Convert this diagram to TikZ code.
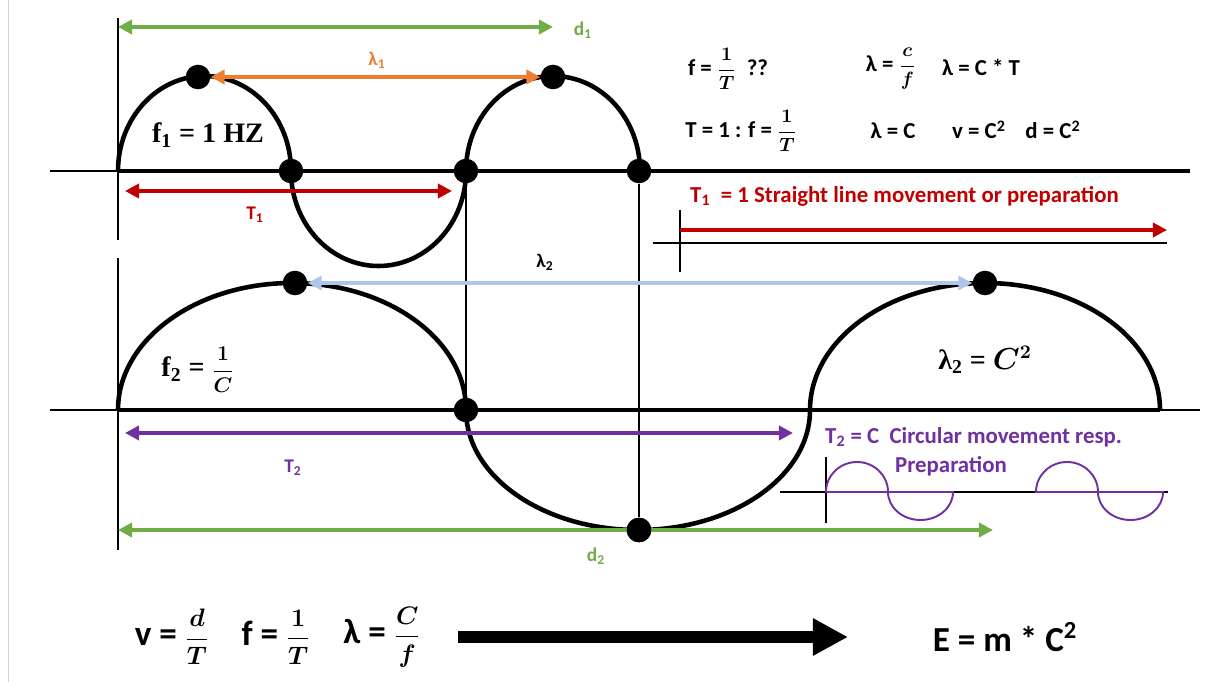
\documentclass[tikz,border=0pt]{standalone}
\usepackage{amsmath}
\usepackage{fontspec}
\setmainfont{Carlito}
\newfontfamily\serifbold{Liberation Serif}
\usetikzlibrary{arrows.meta}
\definecolor{dgreen}{HTML}{70AD47}
\definecolor{dorange}{HTML}{ED7D31}
\definecolor{dred}{HTML}{C00000}
\definecolor{dpurple}{HTML}{7030A0}
\definecolor{lblue}{HTML}{AFC6EA}
\newcommand{\smallfrac}[2]{{\fontsize{10.5}{12}\selectfont$\boldsymbol{\dfrac{#1}{#2}}$}}
\newcommand{\midfrac}[2]{{\fontsize{12}{14}\selectfont$\boldsymbol{\dfrac{#1}{#2}}$}}
\newcommand{\bigfrac}[2]{{\fontsize{15}{18}\selectfont$\boldsymbol{\dfrac{#1}{#2}}$}}
\tikzset{
  wave/.style={line width=2.6pt},
  thinaxis/.style={line width=1.6pt},
  thickaxis/.style={line width=2.8pt},
  guide/.style={line width=1.1pt},
  dot/.style={circle,fill=black,inner sep=0pt,minimum size=14pt},
  dimarrow/.style={line width=2.2pt,{Triangle[length=8pt,width=8pt]}-{Triangle[length=8pt,width=8pt]}},
  lbl/.style={font=\fontsize{11}{13}\selectfont\bfseries},
  formula/.style={font=\fontsize{13}{15}\selectfont\bfseries},
  bigformula/.style={font=\fontsize{20}{24}\selectfont\bfseries},
  serifformula/.style={font=\serifbold\bfseries\fontsize{16}{19}\selectfont},
}
\begin{document}
\begin{tikzpicture}[x=0.02cm,y=-0.02cm]
\useasboundingbox (0,0) rectangle (1214,682);
\draw[gray!35,line width=1pt] (8.5,0) -- (8.5,682);
% axes
\draw[thinaxis] (50,171) -- (1190,171);
\draw[thickaxis] (118,171) -- (1190,171);
\draw[thinaxis] (50,410) -- (1200,410);
\draw[thickaxis] (118,410) -- (1160,410);
\draw[thinaxis] (118,18) -- (118,240);
\draw[thinaxis] (118,258) -- (118,550);
% waves
\draw[wave] (118,171) arc[start angle=180,end angle=360,x radius=86.5,y radius=95]
  arc[start angle=180,end angle=0,x radius=87.5,y radius=95]
  arc[start angle=180,end angle=360,x radius=87,y radius=95];
\draw[wave] (118,410) arc[start angle=180,end angle=360,x radius=174,y radius=127]
  arc[start angle=180,end angle=0,x radius=172,y radius=120]
  arc[start angle=180,end angle=360,x radius=175,y radius=127];
% points
\node[dot] (a1) at (198,77) {};
\node[dot] (a2) at (291,171) {};
\node[dot] (a3) at (466,171) {};
\node[dot] (a4) at (553,77) {};
\node[dot] (a5) at (639,171) {};
\node[dot] (b1) at (295,283) {};
\node[dot] (b2) at (466,410) {};
\node[dot] (b3) at (639,530) {};
\node[dot] (b4) at (985,283) {};
\draw[guide] (a3) -- (b2);
\draw[guide] (a5) -- (b3);
% dimensions
\coordinate (d1l) at (118,27);
\coordinate (d1r) at (553,27);
\coordinate (t1l) at (125,191);
\coordinate (t1r) at (452,191);
\coordinate (t2l) at (125,433);
\coordinate (t2r) at (793,433);
\coordinate (d2l) at (118,530);
\coordinate (d2r) at (993,530);
\draw[dimarrow,dgreen] (d1l) -- (d1r);
\draw[dimarrow,dorange] (a1) -- (a4);
\draw[dimarrow,dred] (t1l) -- (t1r);
\draw[dimarrow,lblue] (b1) -- (b4);
\draw[dimarrow,dpurple] (t2l) -- (t2r);
\draw[dimarrow,dgreen] (d2l) -- (d2r);
\node[dot] at (b3) {};
\node[lbl,dgreen] (ld1) at (583,30) {d\textsubscript{1}};
\node[lbl,dorange] (llam1) at (377,60) {λ\textsubscript{1}};
\node[lbl,dred] (lt1) at (255,215) {T\textsubscript{1}};
\node[lbl] (llam2) at (545,262) {λ\textsubscript{2}};
\node[lbl,dpurple] (lt2) at (293,468) {T\textsubscript{2}};
\node[lbl,dgreen] (ld2) at (596,556) {d\textsubscript{2}};
\node[serifformula] (f1) at (208,135) {f\textsubscript{1} = 1 HZ};
\node[serifformula] (f2) at (198,370) {f\textsubscript{2} = \midfrac{1}{C}};
\node[serifformula] (lam2) at (985,360) {λ\textsubscript{2} = $\boldsymbol{C^2}$};
% straight line movement
\coordinate (sv1) at (680,210);
\coordinate (sv2) at (680,272);
\coordinate (sh1) at (653,243);
\coordinate (sh2) at (1167,243);
\coordinate (sa1) at (680,230);
\coordinate (sa2) at (1167,230);
\draw[thinaxis] (sv1) -- (sv2);
\draw[thinaxis] (sh1) -- (sh2);
\draw[line width=2.2pt,dred,-{Triangle[length=8pt,width=8pt]}] (sa1) -- (sa2);
\node[formula,dred,anchor=west] (straight) at (684,196) {T\textsubscript{1} \ = 1 Straight line movement or preparation};
% circular movement
\coordinate (cv1) at (826,457);
\coordinate (cv2) at (826,523);
\coordinate (ch1) at (780,492);
\coordinate (ch2) at (1168,492);
\draw[thinaxis] (cv1) -- (cv2);
\draw[thinaxis] (ch1) -- (ch2);
\foreach \s in {826,1036}
  \draw[dpurple,line width=1.1pt] (\s,492) arc[start angle=180,end angle=360,x radius=31,y radius=30]
    arc[start angle=180,end angle=0,x radius=32.5,y radius=28] -- cycle;
\node[formula,dpurple,anchor=west] (circ) at (819,437) {T\textsubscript{2} = C \ Circular movement resp.};
\node[formula,dpurple,anchor=west] (prep) at (889,466) {Preparation};
% formulas top right
\node[formula] (fa) at (728,69) {f = \smallfrac{1}{T} \ ??};
\node[formula] (fb) at (891,69) {λ = \smallfrac{c}{f}};
\node[formula] (fc) at (981,67) {λ = C * T};
\node[formula] (fd) at (741,131) {T = 1 : f = \smallfrac{1}{T}};
\node[formula] (fe) at (893,131) {λ = C};
\node[formula] (ff) at (979,130) {v = C\textsuperscript{2}};
\node[formula] (fg) at (1053,130) {d = C\textsuperscript{2}};
% bottom
\node[bigformula] (fh1) at (172,637) {v = \bigfrac{d}{T}};
\node[bigformula] (fh2) at (276,637) {f = \bigfrac{1}{T}};
\node[bigformula] (fh3) at (382,637) {λ = \bigfrac{C}{f}};
\coordinate (bigl) at (458,637);
\coordinate (bigr) at (848,637);
\draw[line width=6.8pt,-{Triangle[length=20pt,width=20pt]}] (bigl) -- (bigr);
\node[bigformula] (emc) at (1005,637) {E = m * C\textsuperscript{2}};
\end{tikzpicture}
\end{document}
